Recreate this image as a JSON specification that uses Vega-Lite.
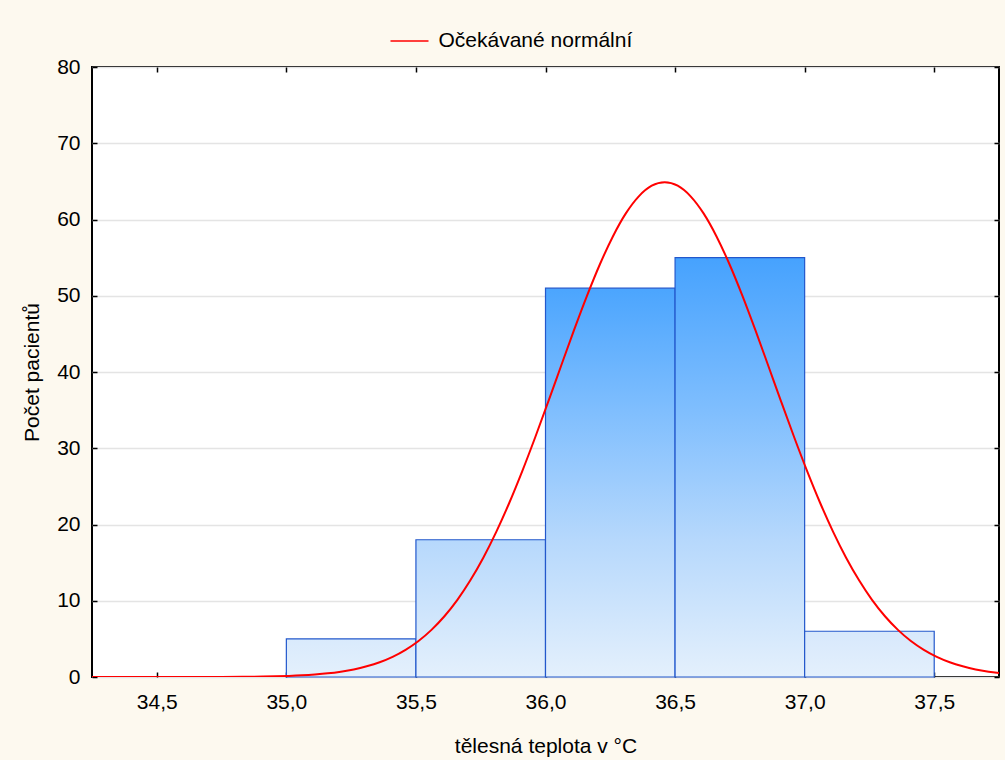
{
  "$schema": "https://vega.github.io/schema/vega-lite/v6.json",
  "width": 907,
  "height": 610,
  "autosize": {"type": "none"},
  "padding": {"left": 92, "top": 67, "right": 6, "bottom": 83},
  "background": "#fdf9ef",
  "config": {
    "font": "Liberation Sans",
    "view": {"fill": "white", "stroke": "black", "strokeWidth": 2},
    "axis": {
      "labelFont": "Liberation Sans",
      "titleFont": "Liberation Sans",
      "labelFontSize": 21,
      "titleFontSize": 21,
      "titleFontWeight": "normal",
      "labelColor": "black",
      "titleColor": "black",
      "tickColor": "black",
      "tickWidth": 1.5,
      "tickSize": -5,
      "domain": false,
      "grid": false
    }
  },
  "datasets": {
    "bins": [
      {"lo": 34.5, "hi": 35.0, "count": 0},
      {"lo": 35.0, "hi": 35.5, "count": 5},
      {"lo": 35.5, "hi": 36.0, "count": 18},
      {"lo": 36.0, "hi": 36.5, "count": 51},
      {"lo": 36.5, "hi": 37.0, "count": 55},
      {"lo": 37.0, "hi": 37.5, "count": 6}
    ],
    "curve": [
      {"t": 34.25, "n": 0}, {"t": 34.5, "n": 0}, {"t": 34.75, "n": 0.004},
      {"t": 34.86, "n": 0.04}, {"t": 34.91, "n": 0.06}, {"t": 34.96, "n": 0.095},
      {"t": 35.01, "n": 0.145}, {"t": 35.06, "n": 0.22}, {"t": 35.11, "n": 0.33},
      {"t": 35.16, "n": 0.48}, {"t": 35.21, "n": 0.70}, {"t": 35.26, "n": 0.99},
      {"t": 35.31, "n": 1.40}, {"t": 35.36, "n": 1.93}, {"t": 35.41, "n": 2.64},
      {"t": 35.46, "n": 3.56}, {"t": 35.51, "n": 4.72}, {"t": 35.56, "n": 6.18},
      {"t": 35.61, "n": 7.97}, {"t": 35.66, "n": 10.12}, {"t": 35.71, "n": 12.68},
      {"t": 35.76, "n": 15.65}, {"t": 35.81, "n": 19.04}, {"t": 35.86, "n": 22.82},
      {"t": 35.91, "n": 26.97}, {"t": 35.96, "n": 31.41}, {"t": 36.01, "n": 36.05},
      {"t": 36.06, "n": 40.79}, {"t": 36.11, "n": 45.48}, {"t": 36.16, "n": 49.98},
      {"t": 36.21, "n": 54.13}, {"t": 36.26, "n": 57.78}, {"t": 36.31, "n": 60.80},
      {"t": 36.36, "n": 63.04}, {"t": 36.41, "n": 64.43}, {"t": 36.46, "n": 64.9},
      {"t": 36.51, "n": 64.43}, {"t": 36.56, "n": 63.04}, {"t": 36.61, "n": 60.80},
      {"t": 36.66, "n": 57.78}, {"t": 36.71, "n": 54.13}, {"t": 36.76, "n": 49.98},
      {"t": 36.81, "n": 45.48}, {"t": 36.86, "n": 40.79}, {"t": 36.91, "n": 36.05},
      {"t": 36.96, "n": 31.41}, {"t": 37.01, "n": 26.97}, {"t": 37.06, "n": 22.82},
      {"t": 37.11, "n": 19.04}, {"t": 37.16, "n": 15.65}, {"t": 37.21, "n": 12.68},
      {"t": 37.26, "n": 10.12}, {"t": 37.31, "n": 7.97}, {"t": 37.36, "n": 6.18},
      {"t": 37.41, "n": 4.72}, {"t": 37.46, "n": 3.56}, {"t": 37.51, "n": 2.64},
      {"t": 37.56, "n": 1.93}, {"t": 37.61, "n": 1.40}, {"t": 37.66, "n": 0.99},
      {"t": 37.71, "n": 0.70}, {"t": 37.75, "n": 0.52}
    ]
  },
  "layer": [
    {
      "data": {"name": "bins"},
      "transform": [{"filter": "datum.count > 0"}],
      "mark": {"type": "rect", "stroke": "#2358cc", "strokeWidth": 1.2},
      "encoding": {
        "x": {
          "field": "lo", "type": "quantitative",
          "scale": {"domain": [34.25, 37.75], "nice": false, "zero": false},
          "axis": {
            "orient": "bottom",
            "values": [34.5, 35, 35.5, 36, 36.5, 37, 37.5],
            "labelExpr": "replace(format(datum.value, '.1f'), '.', ',')",
            "labelPadding": 19,
            "title": "tělesná teplota v °C",
            "titleX": 453.5,
            "titleY": 75,
            "titleBaseline": "alphabetic",
            "titleAnchor": "middle"
          }
        },
        "x2": {"field": "hi"},
        "y": {
          "field": "count", "type": "quantitative",
          "scale": {"domain": [0, 80], "nice": false},
          "axis": {
            "orient": "left",
            "values": [0, 10, 20, 30, 40, 50, 60, 70, 80],
            "grid": true,
            "gridColor": "#e4e4e4",
            "gridWidth": 1.5,
            "labelPadding": 17,
            "title": "Počet pacientů",
            "titleX": -60,
            "titleY": 305,
            "titleAngle": -90,
            "titleBaseline": "middle",
            "titleAlign": "center"
          }
        },
        "y2": {"datum": 0},
        "fill": {
          "condition": [
            {"test": "datum.count === 5", "value": {"gradient": "linear", "x1": 0, "y1": 1, "x2": 0, "y2": 0, "stops": [{"offset": 0, "color": "#e4f0fc"}, {"offset": 1, "color": "#d9eafc"}]}},
            {"test": "datum.count === 18", "value": {"gradient": "linear", "x1": 0, "y1": 1, "x2": 0, "y2": 0, "stops": [{"offset": 0, "color": "#e4f0fc"}, {"offset": 1, "color": "#b6d8fc"}]}},
            {"test": "datum.count === 51", "value": {"gradient": "linear", "x1": 0, "y1": 1, "x2": 0, "y2": 0, "stops": [{"offset": 0, "color": "#e4f0fc"}, {"offset": 0.353, "color": "#b6d8fc"}, {"offset": 0.686, "color": "#7fbefe"}, {"offset": 1, "color": "#4ba5fe"}]}},
            {"test": "datum.count === 55", "value": {"gradient": "linear", "x1": 0, "y1": 1, "x2": 0, "y2": 0, "stops": [{"offset": 0, "color": "#e4f0fc"}, {"offset": 0.327, "color": "#b6d8fc"}, {"offset": 0.636, "color": "#7fbefe"}, {"offset": 1, "color": "#46a2fe"}]}}
          ],
          "value": {"gradient": "linear", "x1": 0, "y1": 1, "x2": 0, "y2": 0, "stops": [{"offset": 0, "color": "#e4f0fc"}, {"offset": 1, "color": "#d7e8fc"}]}
        }
      }
    },
    {
      "data": {"name": "curve"},
      "mark": {"type": "line", "strokeWidth": 2, "clip": true, "interpolate": "monotone"},
      "encoding": {
        "x": {
          "field": "t", "type": "quantitative",
          "axis": {
            "orient": "top",
            "values": [34.5, 35, 35.5, 36, 36.5, 37, 37.5],
            "labels": false,
            "title": null
          }
        },
        "y": {
          "field": "n", "type": "quantitative",
          "axis": {
            "orient": "right",
            "values": [0, 10, 20, 30, 40, 50, 60, 70, 80],
            "labels": false,
            "title": null
          }
        },
        "color": {
          "datum": "Očekávané normální",
          "type": "nominal",
          "scale": {"range": ["#ff0000"]},
          "legend": {
            "orient": "none",
            "legendX": 297.5,
            "legendY": -46,
            "title": null,
            "symbolType": "stroke",
            "symbolSize": 1444,
            "symbolStrokeWidth": 1.5,
            "labelFontSize": 21,
            "labelFont": "Liberation Sans",
            "labelColor": "black",
            "labelOffset": 9,
            "labelLimit": 500,
            "padding": 0
          }
        }
      }
    }
  ]
}
